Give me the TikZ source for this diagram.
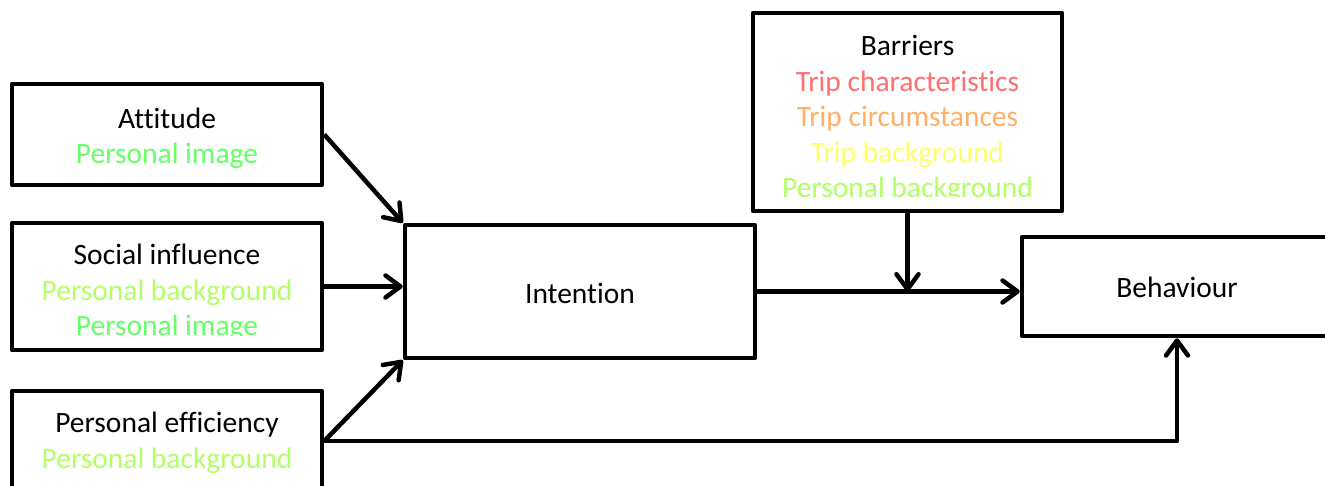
\documentclass[tikz,border=0pt]{standalone}
\usepackage{fontspec}
\setmainfont[Ligatures={NoCommon}]{Carlito}
\usetikzlibrary{arrows.meta}
\definecolor{tripchar}{HTML}{FF6F6F}
\definecolor{tripcirc}{HTML}{FFB066}
\definecolor{tripbg}{HTML}{FFFF66}
\definecolor{persbg}{HTML}{B3FF66}
\definecolor{persimg}{HTML}{66FF66}
\tikzset{
  box/.style={draw, line width=4.5pt, line join=round, inner sep=0pt},
  txt/.style={inner sep=0pt, align=center, font=\fontsize{29.5}{35.5}\selectfont},
  conn/.style={line width=4.5pt, line join=round, -{Straight Barb[length=15pt,width=22pt,line cap=round,line join=round]}}
}
\begin{document}
\begin{tikzpicture}[x=1pt,y=-1pt]
\clip (0,0) rectangle (1325,486);
\fill[white] (0,0) rectangle (1325,486);
\node[box, minimum width=310pt, minimum height=101pt] (att) at (167,134.5) {};
\node[box, minimum width=310pt, minimum height=127pt] (soc) at (167,286.5) {};
\node[box, minimum width=310pt, minimum height=100pt] (eff) at (167,441) {};
\node[box, minimum width=350pt, minimum height=133pt] (int) at (580,291.5) {};
\node[box, minimum width=309pt, minimum height=198pt] (bar) at (907.5,112) {};
\node[box, minimum width=310pt, minimum height=99pt] (beh) at (1177,286.5) {};
\node[txt] (attT) at ([yshift=-4pt]att.center) {Attitude\\\textcolor{persimg}{Personal image}};
\begin{scope}
\clip (20,230) rectangle (315,335);
\node[txt] (socT) at ([yshift=-6pt]soc.center) {Social influence\\\textcolor{persbg}{Personal background}\\\textcolor{persimg}{Personal image}};
\end{scope}
\node[txt] (effT) at ([yshift=-2pt]eff.center) {Personal efficiency\\\textcolor{persbg}{Personal background}};
\node[txt] (intT) at ([yshift=-2pt]int.center) {Intention};
\begin{scope}
\clip (760,20) rectangle (1055,197);
\node[txt] (barT) at ([yshift=-7pt]bar.center) {Barriers\\\textcolor{tripchar}{Trip characteristics}\\\textcolor{tripcirc}{Trip circumstances}\\\textcolor{tripbg}{Trip background}\\\textcolor{persbg}{Personal background}};
\end{scope}
\node[txt] (behT) at ([yshift=-1pt]beh.center) {Behaviour};
\coordinate (j) at (bar.south |- int.east);
\draw[conn] (att.east) -- (int.north west);
\draw[conn] (soc.east) -- (soc.east -| int.west);
\draw[conn] (eff.east) -- (int.south west);
\draw[conn] (eff.east) -| (beh.south);
\draw[conn] (int.east) -- (int.east -| beh.west);
\draw[conn] (bar.south) -- (j);
\end{tikzpicture}
\end{document}
